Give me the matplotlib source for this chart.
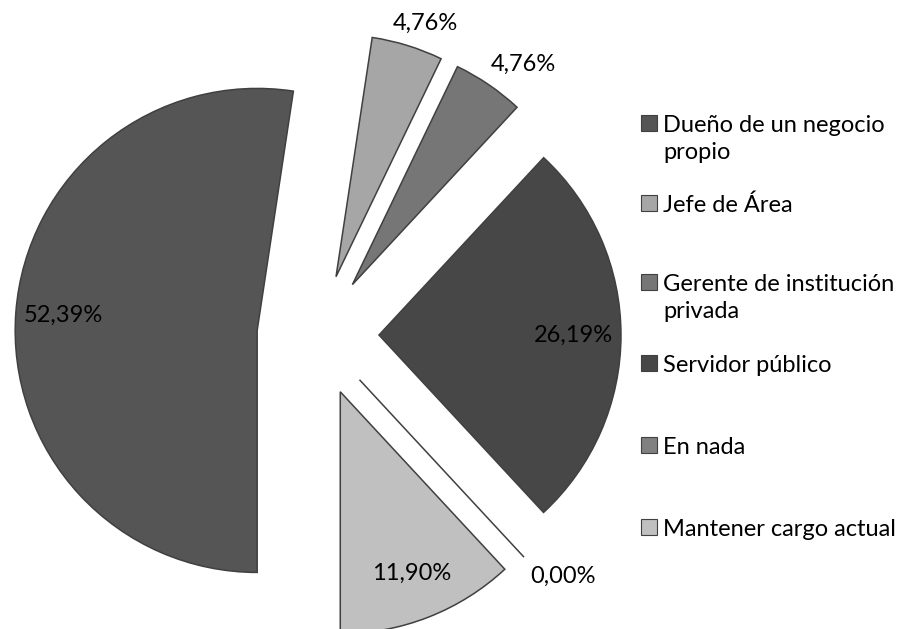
import numpy as np
import matplotlib
matplotlib.use('Agg')
import matplotlib.pyplot as plt
from matplotlib.patches import Rectangle

# Data
categorias = ['Dueño de un negocio\npropio', 'Jefe de Área', 'Gerente de institución\nprivada',
              'Servidor público', 'En nada', 'Mantener cargo actual']
porcentajes = [52.39, 4.76, 4.76, 26.19, 0.00, 11.90]
colores = ['#555555', '#a6a6a6', '#767676', '#474747', '#808080', '#c0c0c0']

plt.rcParams['font.family'] = ['Lato', 'DejaVu Sans']

W, H = 912, 629
R = 242.0           # pie radius in pixels
cx, cy = 318, 335   # pie centre in pixels (from top-left)

fig = plt.figure(figsize=(W / 100, H / 100), dpi=100)
ax = fig.add_axes([0, 0, 1, 1])

wedges, _ = ax.pie(porcentajes, colors=colores, radius=1, startangle=-90, counterclock=False,
                   explode=[0.252] * len(porcentajes),
                   wedgeprops=dict(edgecolor='#404040', linewidth=1.1))

ax.set_xlim(-cx / R, (W - cx) / R)
ax.set_ylim(-(H - cy) / R, cy / R)
ax.set_aspect('equal')
ax.axis('off')

# Data labels: inside for big slices, outside-end (Excel style) for small ones
hw, hh = 0.128, 0.045   # half label box size in data units
for w, v in zip(wedges, porcentajes):
    ang = np.deg2rad((w.theta1 + w.theta2) / 2)
    c, s = np.cos(ang), np.sin(ang)
    if v >= 10:
        x = w.center[0] + 0.805 * c
        y = w.center[1] + 0.805 * s
    else:
        x = w.center[0] + 1.047 * c + hw * np.sign(c) * min(1, abs(c) * 1.6)
        y = w.center[1] + 1.047 * s + hh * np.sign(s) * min(1, abs(s) * 1.6)
    ax.text(x, y, f'{v:.2f}%'.replace('.', ','),
            ha='center', va='center', fontsize=17, color='black')

# Legend drawn like Excel: fixed spacing, one text per line
ys = [123, 203, 282, 363, 445, 527]
for lab, col, yp in zip(categorias, colores, ys):
    fig.patches.append(Rectangle((641 / W, 1 - (yp + 8) / H), 16 / W, 16 / H,
                                 transform=fig.transFigure, facecolor=col,
                                 edgecolor='#404040', linewidth=0.8))
    for i, linea in enumerate(lab.split('\n')):
        fig.text(663 / W, 1 - (yp + 9 + i * 27) / H, linea, ha='left', va='baseline',
                 fontsize=17, color='black')

plt.savefig('out.png', dpi=100)
